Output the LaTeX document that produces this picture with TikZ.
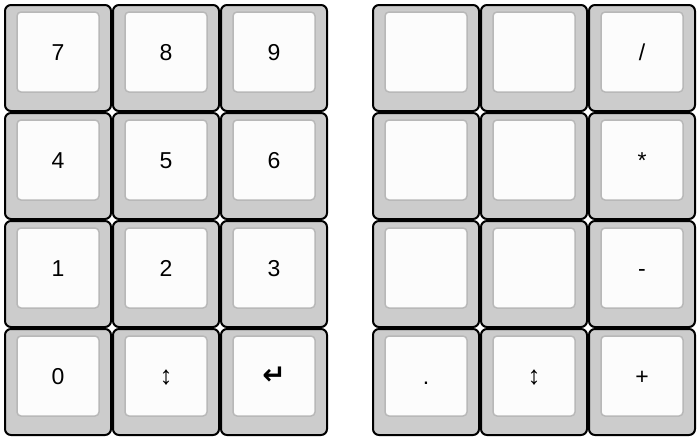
\documentclass[tikz,border=0pt]{standalone}
\usepackage{fontspec}
\setmainfont{Liberation Sans}
\newfontfamily\symfont{DejaVu Sans}
\usetikzlibrary{positioning}
\definecolor{keygray}{HTML}{CCCCCC}
\definecolor{capedge}{HTML}{B8B8B8}
\definecolor{capwhite}{HTML}{FCFCFC}
\newcommand{\updown}{{\fontsize{26}{28}\selectfont ↕}}
\newcommand{\enterkey}{{\symfont\bfseries\fontsize{28}{30}\selectfont ↵}}

\begin{document}
\begin{tikzpicture}[
  x=1pt, y=-1pt,
  keybase/.style={draw=black, line width=2pt, rounded corners=6pt, fill=keygray, minimum width=106pt, minimum height=106pt, inner sep=0pt},
  keycap/.style={draw=capedge, line width=1.5pt, rounded corners=4pt, fill=capwhite, minimum width=82pt, minimum height=80pt, inner sep=0pt, text height=16pt, text depth=0pt, font=\fontsize{23}{25}\selectfont}
]
  \useasboundingbox (0,0) rectangle (700,440);

  % Left block
  \foreach \r/\row in {0/{7,8,9}, 1/{4,5,6}, 2/{1,2,3}, 3/{0,\updown,\enterkey}} {
    \foreach \t [count=\c from 0] in \row {
      \node[keybase] (kL\r\c) at (58+108*\c, 58+108*\r) {};
      \node[keycap, yshift=6pt] (capL\r\c) at (kL\r\c) {\t};
    }
  }

  % Right block
  \foreach \r/\row in {0/{{},{},/}, 1/{{},{},*}, 2/{{},{},-}, 3/{.,\updown,+}} {
    \foreach \t [count=\c from 0] in \row {
      \node[keybase] (kR\r\c) at (426+108*\c, 58+108*\r) {};
      \node[keycap, yshift=6pt] (capR\r\c) at (kR\r\c) {\t};
    }
  }
\end{tikzpicture}
\end{document}
